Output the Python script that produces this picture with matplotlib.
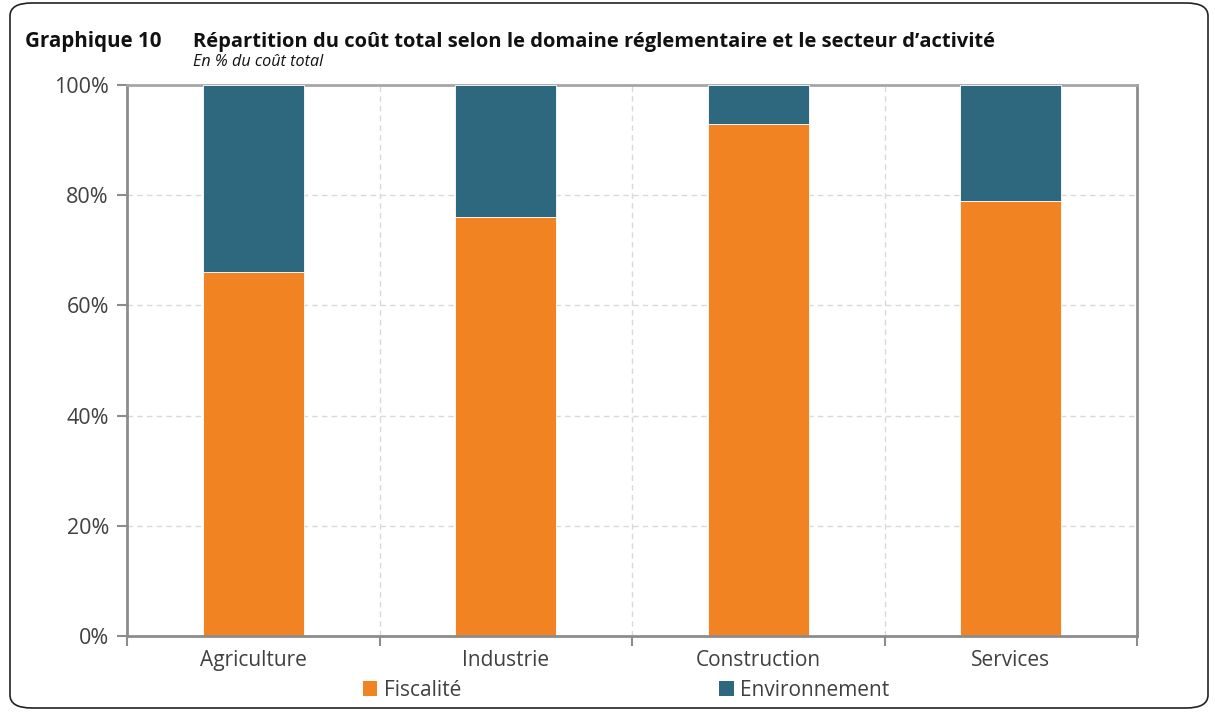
import matplotlib.pyplot as plt
from matplotlib.patches import FancyBboxPatch, Patch
from matplotlib.ticker import FixedLocator, NullFormatter
import numpy as np

sectors = ["Agriculture", "Industrie", "Construction", "Services"]
fiscalite = [66, 76, 93, 79]
environnement = [34, 24, 7, 21]
series_names = ["Fiscalité", "Environnement"]
y_ticks = [0, 20, 40, 60, 80, 100]

ORANGE = "#F28322"
TEAL = "#2E687E"
AXIS_GREY = "#8C8C8C"
GRID_GREY = "#D9D9D9"
TEXT = "#404040"
FONT = ["Open Sans", "DejaVu Sans"]

plt.rcParams["font.family"] = FONT

fig = plt.figure(figsize=(12.15, 7.18), dpi=100)

# rounded outer frame
frame = FancyBboxPatch((10 / 1215, 10 / 718), 1198 / 1215, 705 / 718,
                       boxstyle="round,pad=0,rounding_size=0.018",
                       transform=fig.transFigure, fill=False,
                       edgecolor="#222222", linewidth=1.2)
fig.patches.append(frame)

fig.text(25 / 1215, 1 - 42 / 718, "Graphique 10", fontsize=14.8,
         fontweight="bold", color="#111111", va="center", ha="left")
fig.text(193 / 1215, 1 - 42 / 718,
         "Répartition du coût total selon le domaine réglementaire et le secteur d’activité",
         fontsize=14.5, fontweight="bold", color="#111111", va="center", ha="left")
fig.text(193 / 1215, 1 - 62 / 718, "En % du coût total", fontsize=11.6,
         fontstyle="italic", color="#111111", va="center", ha="left")

ax = fig.add_axes([127 / 1215, 1 - 636 / 718, 1010 / 1215, 551 / 718])

x = np.arange(len(sectors))
width = 0.4
b1 = ax.bar(x, fiscalite, width, color=ORANGE, edgecolor="white",
            linewidth=0.6, zorder=3)
b2 = ax.bar(x, environnement, width, bottom=fiscalite, color=TEAL,
            edgecolor="white", linewidth=0.6, zorder=3)

ax.set_xlim(-0.5, len(sectors) - 0.5)
ax.set_ylim(0, 100)

ax.set_yticks(y_ticks)
ax.set_yticklabels([f"{v}%" for v in y_ticks], fontsize=15.5, color=TEXT)
ax.set_xticks(x)
ax.set_xticklabels(sectors, fontsize=15, color=TEXT)
ax.tick_params(axis="x", which="major", length=0, pad=10)
ax.xaxis.set_minor_locator(FixedLocator(np.arange(-0.5, len(sectors), 1.0)))
ax.xaxis.set_minor_formatter(NullFormatter())
ax.tick_params(axis="x", which="minor", length=7, width=1.5, color=AXIS_GREY)
ax.tick_params(axis="y", length=7, width=1.5, color=AXIS_GREY, pad=6)

# dashed gridlines
for v in y_ticks[1:-1]:
    ax.axhline(v, color=GRID_GREY, linestyle=(0, (4, 3)), linewidth=1, zorder=1)
for xb in np.arange(0.5, len(sectors) - 0.5, 1.0):
    ax.axvline(xb, color=GRID_GREY, linestyle=(0, (4, 3)), linewidth=1, zorder=1)

for side in ["left", "right", "top", "bottom"]:
    ax.spines[side].set_color(AXIS_GREY)
    ax.spines[side].set_linewidth(2)
ax.spines["top"].set_color("#A6A6A6")
ax.spines["bottom"].set_zorder(4)

handles = [Patch(facecolor=ORANGE), Patch(facecolor=TEAL)]
fig.legend(handles, series_names, loc="center", ncol=2,
           bbox_to_anchor=(626 / 1215, 1 - 690 / 718), frameon=False,
           fontsize=15, handlelength=0.7, handleheight=0.7,
           handletextpad=0.3, columnspacing=12.4, labelcolor=TEXT)

fig.savefig("out.png", dpi=100)
